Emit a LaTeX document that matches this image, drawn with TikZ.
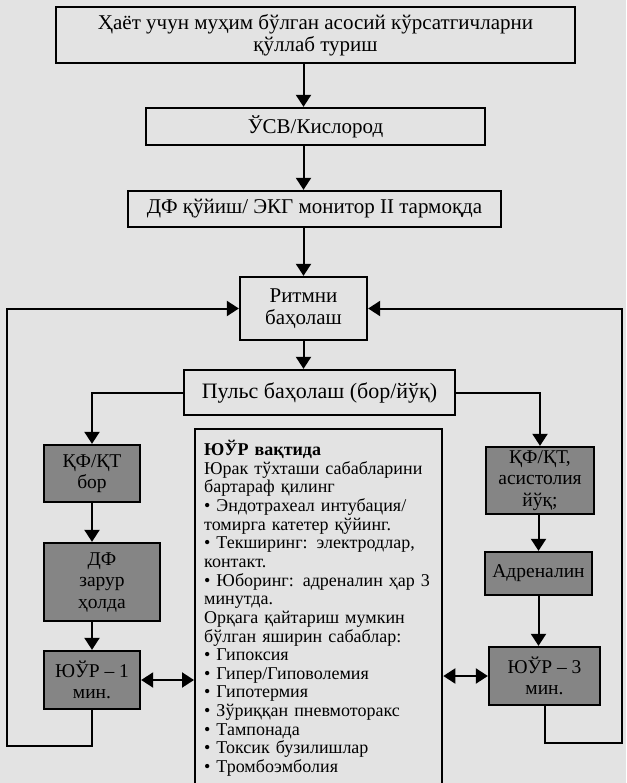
\documentclass[tikz,border=0pt]{standalone}
\usepackage{fontspec}
\setmainfont{Liberation Serif}
\usepackage{tikz}
\usetikzlibrary{arrows.meta,calc}

\newcommand{\jline}[1]{\makebox[229pt][s]{#1}}

\begin{document}
\begin{tikzpicture}[x=1pt, y=-1pt, inner sep=0pt,
	box/.style={draw=black, line width=2.3pt, align=center, font=\fontsize{21pt}{22pt}\selectfont},
	greybox/.style={box, fill=black!48, font=\fontsize{19.5pt}{21.5pt}\selectfont},
	pfeil/.style={-{Triangle[length=12pt,width=15pt]}, line width=2pt},
	doppelpfeil/.style={{Triangle[length=12pt,width=15pt]}-{Triangle[length=12pt,width=15pt]}, line width=2pt}]
	
	\useasboundingbox (0,0) rectangle (626,783);
	\fill[black!11] (0,0) rectangle (626,783);
	\clip (0,0) rectangle (626,783);
	
	\node[box, minimum width=519pt, minimum height=56pt](vital) at (315.5,35) {Ҳаёт учун муҳим бўлган асосий кўрсатгичларни\\қўллаб туриш};
	\node[box, minimum width=339pt, minimum height=37pt](svo) at (315.5,126.5) {ЎСВ/Кислород};
	\node[box, minimum width=373pt, minimum height=36pt](ekg) at (314.5,209) {ДФ қўйиш/ ЭКГ монитор II тармоқда};
	\node[box, minimum width=127pt, minimum height=63pt](rhythm) at (303.5,308.5) {Ритмни\\баҳолаш};
	\node[box, minimum width=271pt, minimum height=45pt, font=\fontsize{22pt}{23pt}\selectfont](puls) at (319.5,392.5) {Пульс баҳолаш (бор/йўқ)};
	
	\node[greybox, minimum width=96pt, minimum height=57pt](kf) at (92,473.5) {ҚФ/ҚТ\\бор};
	\node[greybox, minimum width=116pt, minimum height=78pt](df) at (102,582) {ДФ\\зарур\\ҳолда};
	\node[greybox, minimum width=96pt, minimum height=58pt](cpr1) at (92,680) {ЮЎР – 1\\мин.};
	
	\node[greybox, minimum width=108pt, minimum height=67pt](kfa) at (540,480.5) {ҚФ/ҚТ,\\асистолия\\йўқ;};
	\node[greybox, minimum width=107pt, minimum height=43pt](adr) at (538.5,573.5) {Адреналин};
	\node[greybox, minimum width=111pt, minimum height=58pt](cpr3) at (544.5,676) {ЮЎР – 3\\мин.};
	
	\node[box, anchor=north west, minimum width=247pt, minimum height=380pt](info) at (194,428) {};
	\node[anchor=north west, text width=229pt, align=left, font=\fontsize{18pt}{18.65pt}\selectfont](infotext) at (204,440) {%
		\textbf{ЮЎР вақтида}\\
		\jline{Юрак тўхташи сабабларини}\\
		бартараф қилинг\\
		\jline{• Эндотрахеал интубация/}\\
		томирга катетер қўйинг.\\
		\jline{• Текширинг: электродлар,}\\
		контакт.\\
		\jline{• Юборинг: адреналин ҳар 3}\\
		минутда.\\
		\jline{Орқага қайтариш мумкин}\\
		бўлган яширин сабаблар:\\
		• Гипоксия\\
		• Гипер/Гиповолемия\\
		• Гипотермия\\
		• Зўриққан пневмоторакс\\
		• Тампонада\\
		• Токсик бузилишлар\\
		• Тромбоэмболия};
	
	\coordinate (lu) at (7,746);
	\coordinate (ru) at (622,743);
	
	% senkrechte Pfeile
	\draw[pfeil] (rhythm.north |- vital.south) -- (rhythm.north |- svo.north);
	\draw[pfeil] (rhythm.north |- svo.south) -- (rhythm.north |- ekg.north);
	\draw[pfeil] (rhythm.north |- ekg.south) -- (rhythm.north);
	\draw[pfeil] (rhythm.south) -- (rhythm.south |- puls.north);
	
	\draw[pfeil] (puls.west) -| (kf.north);
	\draw[pfeil] (puls.east) -| (kfa.north);
	
	\draw[pfeil] (kf.south) -- (kf.south |- df.north);
	\draw[pfeil] (kf.south |- df.south) -- (cpr1.north);
	\draw[pfeil] (adr.north |- kfa.south) -- (adr.north);
	\draw[pfeil] (adr.south) -- (adr.south |- cpr3.north);
	
	\draw[doppelpfeil] (cpr1.east) -- (cpr1.east -| info.west);
	\draw[doppelpfeil] (cpr3.west -| info.east) -- (cpr3.west);
	
	% Rueckfuehrung
	\draw[pfeil] (cpr1.south) |- (lu) |- (rhythm.west);
	\draw[pfeil] (cpr3.south) |- (ru) |- (rhythm.east);
\end{tikzpicture}
\end{document}
